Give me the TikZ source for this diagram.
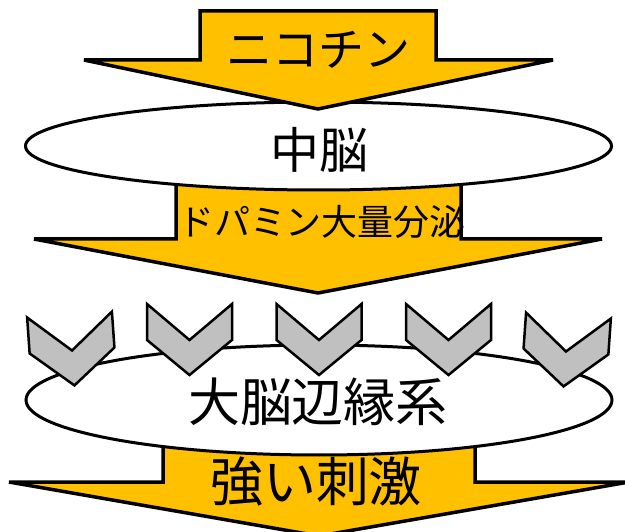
\documentclass[tikz,border=0pt]{standalone}
\usepackage{fontspec}
\newfontfamily\jp{Noto Sans CJK JP}
\usetikzlibrary{shapes.geometric}
\definecolor{gold}{HTML}{FFC000}
\definecolor{chevgray}{HTML}{C0C0C0}
\tikzset{
  bigarrow/.style={draw=black, fill=gold, line width=3.5pt, line join=miter, miter limit=2},
  brain/.style={ellipse, draw=black, fill=white, line width=3pt, minimum width=586pt, minimum height=88pt, inner sep=0pt},
  chevstyle/.style={draw=black, fill=chevgray, line width=2.5pt, line join=miter},
  chev/.pic={\draw[chevstyle] (-42.5,-35.5) -- (0,0.5) -- (42.5,-35.5) -- (42.5,0.5) -- (0,35.5) -- (-42.5,0.5) -- cycle;},
  lbl/.style={inner sep=0pt, text=black, font=\jp}
}
\begin{document}
\begin{tikzpicture}[x=1pt, y=-1pt]
\useasboundingbox (0,0) rectangle (625,532);
\clip (0,0) rectangle (625,532);
% lower arrows (shafts hidden behind the ellipses)
\draw[bigarrow] (176,175) -- (461,175) -- (461,239) -- (602,239) -- (318,293) -- (34,239) -- (176,239) -- cycle;
\draw[bigarrow] (163,440) -- (475,440) -- (475,482) -- (629,482) -- (319,536) -- (9,482) -- (163,482) -- cycle;
% ellipses
\node[brain] (midbrain) at (318.5,146) {};
\node[brain, minimum height=110pt] (limbic) at (319,400) {};
% top arrow
\draw[bigarrow] (200,11) -- (436,11) -- (436,60) -- (553,60) -- (318,109) -- (84,60) -- (200,60) -- cycle;
% chevrons
\pic[rotate=4] at (72,350) {chev};
\pic at (189.5,339.5) {chev};
\pic at (319,339.5) {chev};
\pic at (448.5,339.5) {chev};
\pic[rotate=-4] at (566,351) {chev};
% texts
\node[lbl, font=\jp\fontsize{46}{50}\selectfont] (nicotine) at (318,50) {ニコチン};
\node[lbl, font=\jp\fontsize{49}{52}\selectfont] (mbtext) at (319,150) {中脳};
\node[lbl, font=\jp\fontsize{36}{40}\selectfont] (dopamine) at (322,222) {ドパミン大量分泌};
\node[lbl, font=\jp\fontsize{52}{56}\selectfont] (lstext) at (318,402) {大脳辺縁系};
\node[lbl, font=\jp\fontsize{53}{56}\selectfont] (stim) at (316,482) {強い刺激};
\end{tikzpicture}
\end{document}
